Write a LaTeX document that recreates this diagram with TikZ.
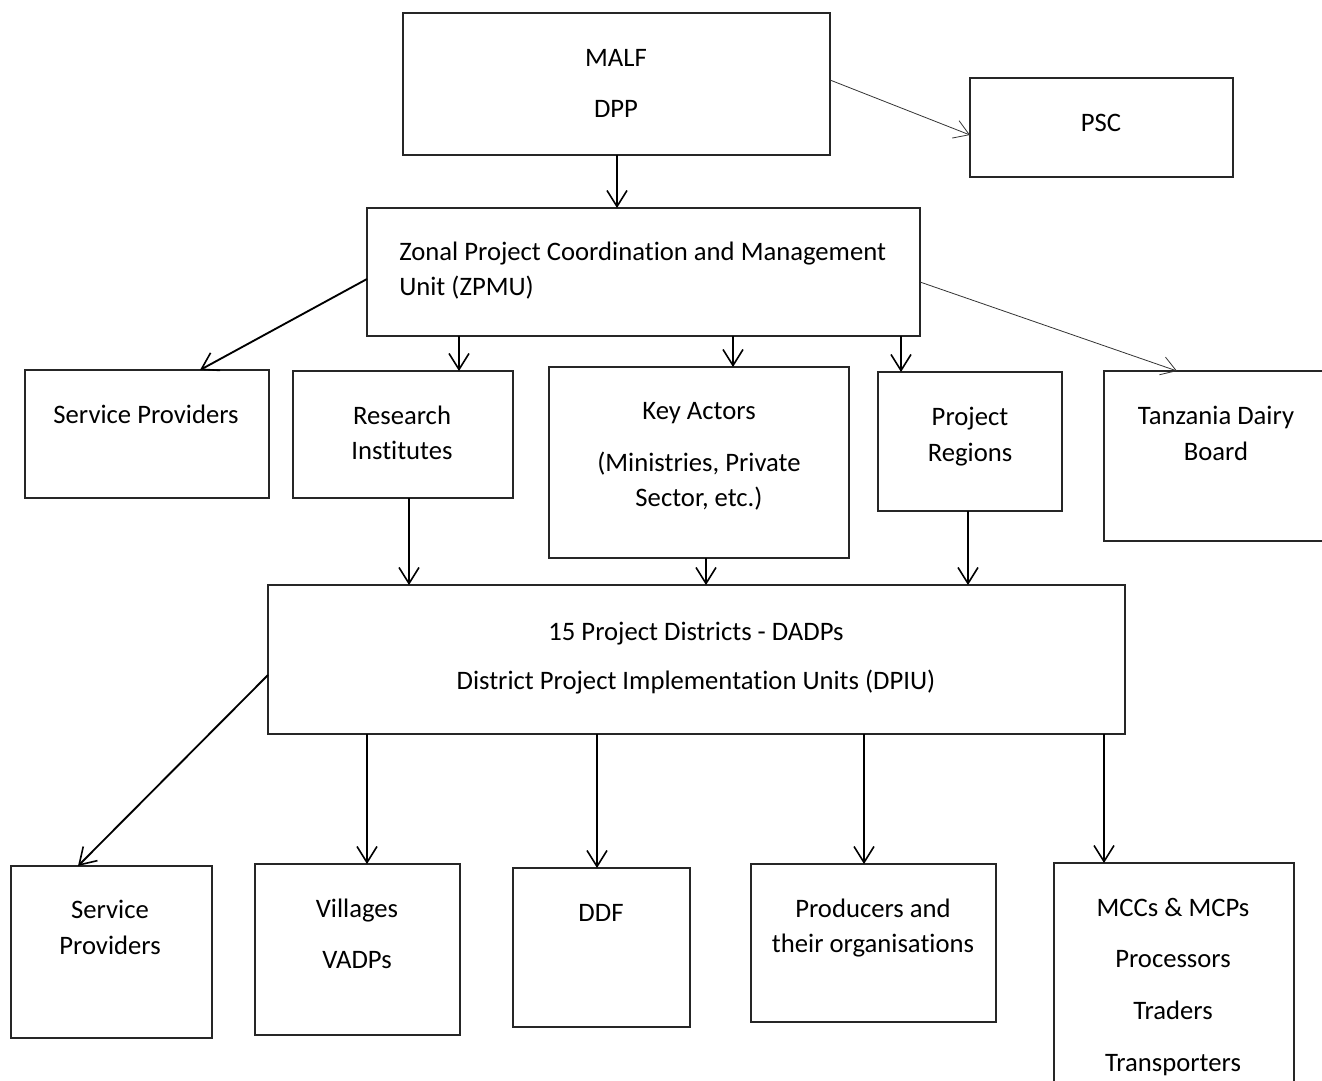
\documentclass[tikz,border=0pt]{standalone}
\usepackage{fontspec}
\setmainfont{Carlito}[Ligatures=NoCommon]
\usetikzlibrary{arrows.meta}
% box from its top-left and bottom-right corners
\newcommand\boxfrom[5]{%
  \node[box,anchor=north west,minimum width={(#4-#2)*0.75pt},minimum height={(#5-#3)*0.75pt}] (#1) at (#2,#3) {};}
\begin{document}
\begin{tikzpicture}[x=0.75pt,y=-0.75pt,
  box/.style={draw=black!85, line width=1pt, inner sep=0pt, outer sep=0pt},
  lbl/.style={font=\fontsize{20}{24}\selectfont, anchor=mid, inner sep=0pt, yshift=-4.5pt},
  arr/.style={draw=black, line width=1.4pt, -{Straight Barb[length=12pt,width=15pt,line width=1.2pt]}},
  thinarr/.style={draw=black!80, line width=0.6pt, -{Straight Barb[length=11pt,width=14pt,line width=0.6pt]}}]
\useasboundingbox (0,0) rectangle (1322,1081);
\clip (0,0) rectangle (1322,1081);

% boxes
\boxfrom{malf}{403}{13}{830}{155}
\boxfrom{psc}{970}{78}{1233}{177}
\boxfrom{zpmu}{367}{208}{920}{336}
\boxfrom{spa}{25}{370}{269}{498}
\boxfrom{ri}{293}{371}{513}{498}
\boxfrom{ka}{549}{367}{849}{558}
\boxfrom{pr}{878}{372}{1062}{511}
\boxfrom{tdb}{1104}{371}{1340}{541}
\boxfrom{dpiu}{268}{585}{1125}{734}
\boxfrom{spb}{11}{866}{212}{1038}
\boxfrom{vil}{255}{864}{460}{1035}
\boxfrom{ddf}{513}{868}{690}{1027}
\boxfrom{prod}{751}{864}{996}{1022}
\boxfrom{mcc}{1054}{863}{1294}{1100}

% texts
\node[lbl] (t1) at (616,57) {MALF};
\node[lbl] (t2) at (616,108) {DPP};
\node[lbl] (t3) at (1101,122) {PSC};
\node[lbl,anchor=mid west] (t4) at (399,251) {Zonal Project Coordination and Management};
\node[lbl,anchor=mid west] (t5) at (399,286) {Unit (ZPMU)};
\node[lbl] (t6) at (146,414) {Service Providers};
\node[lbl] (t7) at (402,415) {Research};
\node[lbl] (t8) at (402,450) {Institutes};
\node[lbl] (t9) at (699,410) {Key Actors};
\node[lbl] (t10) at (699,462) {(Ministries, Private};
\node[lbl] (t11) at (699,497) {Sector, etc.)};
\node[lbl] (t12) at (970,416) {Project};
\node[lbl] (t13) at (970,452) {Regions};
\node[lbl] (t14) at (1216,415) {Tanzania Dairy};
\node[lbl] (t15) at (1216,451) {Board};
\node[lbl] (t16) at (696,631) {15 Project Districts - DADPs};
\node[lbl] (t17) at (696,680) {District Project Implementation Units (DPIU)};
\node[lbl] (t18) at (110,909) {Service};
\node[lbl] (t19) at (110,945) {Providers};
\node[lbl] (t20) at (357,908) {Villages};
\node[lbl] (t21) at (357,959) {VADPs};
\node[lbl] (t22) at (601,912) {DDF};
\node[lbl] (t23) at (873,908) {Producers and};
\node[lbl] (t24) at (873,943) {their organisations};
\node[lbl] (t25) at (1173,907) {MCCs \& MCPs};
\node[lbl] (t26) at (1173,958) {Processors};
\node[lbl] (t27) at (1173,1010) {Traders};
\node[lbl] (t28) at (1173,1062) {Transporters};

% connectors
\draw[arr] (malf.south -| 617,0) -- (zpmu.north -| 617,0);
\draw[thinarr] (malf.east |- 0,80) -- (psc.west |- 0,135);
\draw[arr] (zpmu.west |- 0,279) -- (spa.north -| 200,0);
\draw[arr] (zpmu.south -| 459,0) -- (ri.north -| 459,0);
\draw[arr] (zpmu.south -| 733,0) -- (ka.north -| 733,0);
\draw[arr] (zpmu.south -| 901,0) -- (pr.north -| 901,0);
\draw[thinarr] (zpmu.east |- 0,282) -- (tdb.north -| 1177,0);
\draw[arr] (ri.south -| 409,0) -- (dpiu.north -| 409,0);
\draw[arr] (ka.south -| 706,0) -- (dpiu.north -| 706,0);
\draw[arr] (pr.south -| 968,0) -- (dpiu.north -| 968,0);
\draw[arr] (dpiu.west |- 0,675) -- (spb.north -| 78,0);
\draw[arr] (dpiu.south -| 367,0) -- (vil.north -| 367,0);
\draw[arr] (dpiu.south -| 597,0) -- (ddf.north -| 597,0);
\draw[arr] (dpiu.south -| 864,0) -- (prod.north -| 864,0);
\draw[arr] (dpiu.south -| 1104,0) -- (mcc.north -| 1104,0);
\end{tikzpicture}
\end{document}
